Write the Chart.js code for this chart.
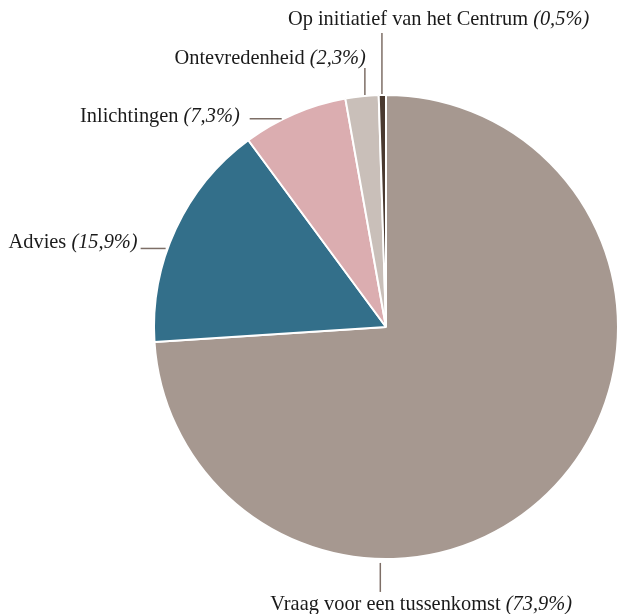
<!DOCTYPE html>
<html>
<head>
<meta charset="utf-8">
<script src="https://cdn.jsdelivr.net/npm/chart.js@4/dist/chart.umd.min.js"></script>
<style>
  html, body { margin: 0; padding: 0; background: #fff; }
  #wrap { width: 619px; height: 614px; }
</style>
</head>
<body>
<div id="wrap"><canvas id="chart"></canvas></div>
<script>
// Categories and shares (%)
const categories = ['Vraag voor een tussenkomst', 'Advies', 'Inlichtingen', 'Ontevredenheid', 'Op initiatief van het Centrum'];
const shares = [73.9, 15.9, 7.3, 2.3, 0.5];
const shareLabels = ['73,9%', '15,9%', '7,3%', '2,3%', '0,5%'];
const colors = ['#a69890', '#336f8a', '#dbadb0', '#c9bfb9', '#4a3a30'];

// Where each label's leader line leaves the pie (degrees clockwise from top)
const leaders = [
    { angle: 181.4, dir: 'down', gap: 3, len: 29, align: 'left', dx: -110, dy: 18 },
    { angle: 289.7, dir: 'left', gap: 1, len: 25, align: 'right', dx: -3, dy: 0 },
    { angle: 333.4, dir: 'left', gap: 0, len: 32, align: 'right', dx: -10, dy: 3.5 },
    { angle: 354.8, dir: 'up', gap: 0, len: 27, align: 'right', dx: 1, dy: -3.5 },
    { angle: 359.0, dir: 'up', gap: 0, len: 61, align: 'left', dx: -94, dy: -8 }
];

const FONT = '20.4px "Liberation Serif", "Times New Roman", serif';
const FONT_IT = 'italic 20.4px "Liberation Serif", "Times New Roman", serif';

// Leader lines and labels around the pie
const pieLabels = {
    id: 'pieLabels',
    afterDraw(chart) {
        const ctx = chart.ctx;
        const arc = chart.getDatasetMeta(0).data[0];
        const cx = arc.x, cy = arc.y, r = arc.outerRadius + 1;

        ctx.save();
        ctx.strokeStyle = '#7d6e66';
        ctx.lineWidth = 1.5;
        ctx.fillStyle = '#1a1a1a';
        ctx.textBaseline = 'alphabetic';

        leaders.forEach((l, i) => {
            const a = l.angle * Math.PI / 180;
            let x = cx + r * Math.sin(a);
            let y = cy - r * Math.cos(a);
            let x2 = x, y2 = y;
            if (l.dir === 'up') { y -= l.gap; y2 = y - l.len; }
            if (l.dir === 'down') { y += l.gap; y2 = y + l.len; }
            if (l.dir === 'left') { x -= l.gap; x2 = x - l.len; }

            ctx.beginPath();
            ctx.moveTo(x, y);
            ctx.lineTo(x2, y2);
            ctx.stroke();

            const name = categories[i] + ' ';
            const pct = '(' + shareLabels[i] + ')';
            ctx.font = FONT;
            const w1 = ctx.measureText(name).width;
            ctx.font = FONT_IT;
            const w2 = ctx.measureText(pct).width;

            let tx = x2 + l.dx;
            if (l.align === 'right') tx -= (w1 + w2);
            const ty = y2 + l.dy;

            ctx.textAlign = 'left';
            ctx.font = FONT;
            ctx.fillText(name, tx, ty);
            ctx.font = FONT_IT;
            ctx.fillText(pct, tx + w1, ty);
        });
        ctx.restore();
    }
};

new Chart(document.getElementById('chart'), {
    type: 'pie',
    data: {
        labels: categories,
        datasets: [{
            data: shares,
            backgroundColor: colors,
            borderColor: '#ffffff',
            borderWidth: 2
        }]
    },
    options: {
        responsive: true,
        maintainAspectRatio: false,
        animation: false,
        layout: {
            padding: { left: 153, right: 0, top: 94, bottom: 54 }
        },
        plugins: {
            legend: { display: false },
            tooltip: { enabled: false }
        }
    },
    plugins: [pieLabels]
});
</script>
</body>
</html>
